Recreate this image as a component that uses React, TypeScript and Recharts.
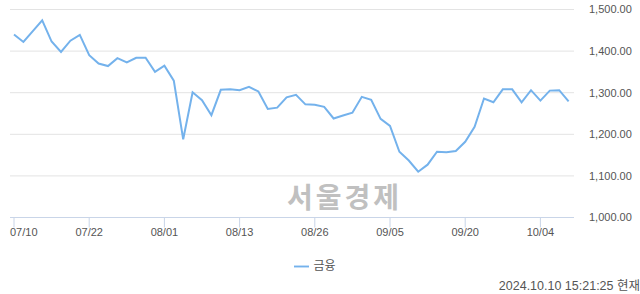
import React from "react";
import { LineChart, Line, XAxis, YAxis, CartesianGrid, Legend } from "recharts";

const dates = [
  "07/10", "07/11", "07/12", "07/15", "07/16", "07/17", "07/18", "07/19",
  "07/22", "07/23", "07/24", "07/25", "07/26", "07/29", "07/30", "07/31",
  "08/01", "08/02", "08/05", "08/06", "08/07", "08/08", "08/09", "08/12",
  "08/13", "08/14", "08/16", "08/19", "08/20", "08/21", "08/22", "08/23",
  "08/26", "08/27", "08/28", "08/29", "08/30", "09/02", "09/03", "09/04",
  "09/05", "09/06", "09/09", "09/10", "09/11", "09/12", "09/13", "09/19",
  "09/20", "09/23", "09/24", "09/25", "09/26", "09/27", "09/30", "10/02",
  "10/04", "10/07", "10/08", "10/10",
];

const values = [
  1440, 1422, 1448, 1474, 1423, 1398, 1425, 1439,
  1390, 1370, 1364, 1383, 1373, 1384, 1384, 1350,
  1365, 1329, 1188, 1301, 1282, 1246, 1307, 1308,
  1306, 1314, 1303, 1261, 1264, 1289, 1295, 1272,
  1271, 1266, 1238, 1245, 1252, 1290, 1283, 1237,
  1220, 1158, 1137, 1110, 1127, 1158, 1157, 1160,
  1182, 1218, 1286, 1277, 1308, 1308, 1277, 1306,
  1281, 1305, 1306, 1279,
];

const xTicks = ["07/10", "07/22", "08/01", "08/13", "08/26", "09/05", "09/20", "10/04"];
const yTicks = [1000, 1100, 1200, 1300, 1400, 1500];

const data = dates.map((date, i) => ({ date, value: values[i] }));

const FONT = '"Liberation Sans", Arial, "Noto Sans CJK KR", sans-serif';

const fmt = (v: number) =>
  v.toLocaleString("en-US", { minimumFractionDigits: 2, maximumFractionDigits: 2 });

// first label is pushed right so it stays inside the plot, like the original
const DateTick = (props: any) => {
  const { x, y, payload } = props;
  const first = payload.value === xTicks[0];
  return (
    <text
      x={first ? 10 : x}
      y={y}
      dy="0.71em"
      textAnchor={first ? "start" : "middle"}
      fill="#555"
      fontSize={11}
      fontFamily={FONT}
    >
      {payload.value}
    </text>
  );
};

export default function App() {
  return (
    <div style={{ position: "absolute", left: 0, top: 0, width: 640, height: 294, background: "#fff", fontFamily: FONT }}>
      <div
        style={{
          position: "absolute",
          left: 287,
          top: 180,
          fontSize: 28,
          lineHeight: "32px",
          letterSpacing: 3,
          fontWeight: 700,
          color: "#c0c0c0",
          fontFamily: '"Noto Sans CJK KR", sans-serif',
        }}
      >
        서울경제
      </div>
      <LineChart
        width={640}
        height={294}
        data={data}
        margin={{ top: 9.5, right: 0, left: 10, bottom: 26.5 }}
        style={{ position: "absolute", left: 0, top: 0 }}
      >
        <CartesianGrid vertical={false} stroke="#e3e3e3" />
        <XAxis
          dataKey="date"
          ticks={xTicks}
          interval={0}
          height={30}
          padding={{ left: 4, right: 5.4 }}
          axisLine={{ stroke: "#c9d5e8" }}
          tickLine={{ stroke: "#c9d5e8" }}
          tickSize={10}
          tickMargin={1}
          tick={<DateTick />}
        />
        <YAxis
          orientation="right"
          width={66}
          domain={[1000, 1500]}
          ticks={yTicks}
          tickFormatter={fmt}
          axisLine={false}
          tickLine={false}
          tickSize={0}
          tickMargin={15}
          tick={{ fill: "#555", fontSize: 11, fontFamily: FONT }}
        />
        <Legend
          height={20}
          iconType="plainline"
          iconSize={15}
          wrapperStyle={{ left: 0, width: 640, top: 256, fontSize: 12, fontFamily: FONT }}
          formatter={(v: string) => <span style={{ color: "#555" }}>{v}</span>}
        />
        <Line
          type="linear"
          dataKey="value"
          name="금융"
          stroke="#74b2ec"
          strokeWidth={2}
          dot={false}
          isAnimationActive={false}
        />
      </LineChart>
      <div
        style={{
          position: "absolute",
          right: 0,
          top: 275,
          fontSize: 12.5,
          color: "#555",
          whiteSpace: "nowrap",
          fontFamily: FONT,
        }}
      >
        2024.10.10 15:21:25 현재
      </div>
    </div>
  );
}
